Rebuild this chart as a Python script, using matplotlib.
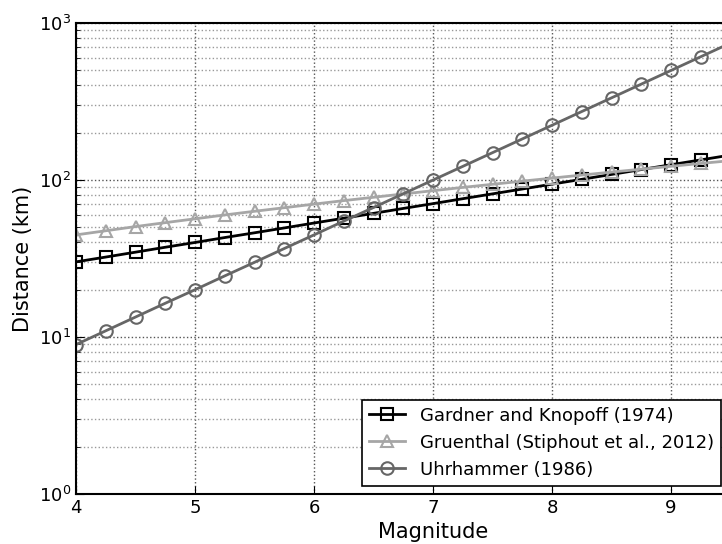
import matplotlib
matplotlib.use("Agg")
import matplotlib.pyplot as plt

magnitude = [4.0, 4.25, 4.5, 4.75, 5.0, 5.25, 5.5, 5.75, 6.0, 6.25, 6.5, 6.75,
             7.0, 7.25, 7.5, 7.75, 8.0, 8.25, 8.5, 8.75, 9.0, 9.25, 9.5]

gardner_knopoff = [30.1, 32.3, 34.7, 37.3, 40.0, 43.0, 46.1, 49.5, 53.2, 57.1, 61.3, 65.9,
                   70.7, 76.0, 81.6, 87.6, 94.1, 101.0, 108.5, 116.5, 125.1, 134.3, 144.2]
gruenthal = [44.7, 47.5, 50.5, 53.5, 56.6, 59.9, 63.2, 66.6, 70.2, 73.9, 77.6, 81.5,
             85.5, 89.7, 93.9, 98.3, 102.8, 107.5, 112.3, 117.2, 122.3, 127.5, 132.8]
uhrhammer = [8.95, 10.95, 13.4, 16.4, 20.0, 24.5, 29.9, 36.6, 44.7, 54.7, 66.8, 81.7,
             99.9, 122.1, 149.3, 182.6, 223.2, 272.9, 333.6, 407.9, 498.7, 609.8, 745.5]

labels = ["Gardner and Knopoff (1974)", "Gruenthal (Stiphout et al., 2012)", "Uhrhammer (1986)"]

W, H = 722, 544
fig = plt.figure(figsize=(W / 100, H / 100), dpi=100)
# axes run past the right edge, the original picture is cropped there
ax = fig.add_axes([76 / W, 1 - 494 / H, 6 * 119 / W, (494 - 23) / H])

ax.plot(magnitude, gardner_knopoff, color="black", lw=2, marker="s", ms=9,
        mfc="none", mec="black", mew=1.5, label=labels[0])
ax.plot(magnitude, gruenthal, color="#a6a6a6", lw=2, marker="^", ms=9,
        mfc="none", mec="#a6a6a6", mew=1.5, label=labels[1])
ax.plot(magnitude, uhrhammer, color="#666666", lw=2, marker="o", ms=9,
        mfc="none", mec="#666666", mew=1.5, label=labels[2])

ax.set_yscale("log")
ax.set_xlim(4, 10)
ax.set_ylim(1, 1000)
ax.set_xticks([4, 5, 6, 7, 8, 9])

ax.grid(True, which="major", color="#555555", linestyle=":", lw=1)
ax.grid(True, which="minor", axis="y", color="#999999", linestyle=":", lw=1)
ax.tick_params(which="both", direction="in", labelsize=13)
ax.tick_params(which="major", length=6)
ax.tick_params(which="minor", length=3)
for s in ax.spines.values():
    s.set_linewidth(1.5)

ax.set_xlabel("Magnitude", fontsize=15)
ax.set_ylabel("Distance (km)", fontsize=15)

leg = ax.legend(loc="lower left", bbox_to_anchor=(362 / W, 1 - 486 / H),
                bbox_transform=fig.transFigure, fancybox=False, fontsize=13,
                borderaxespad=0, handlelength=2, framealpha=1)
leg.get_frame().set_edgecolor("black")
leg.get_frame().set_linewidth(1.2)

fig.savefig("out.png", dpi=100)
